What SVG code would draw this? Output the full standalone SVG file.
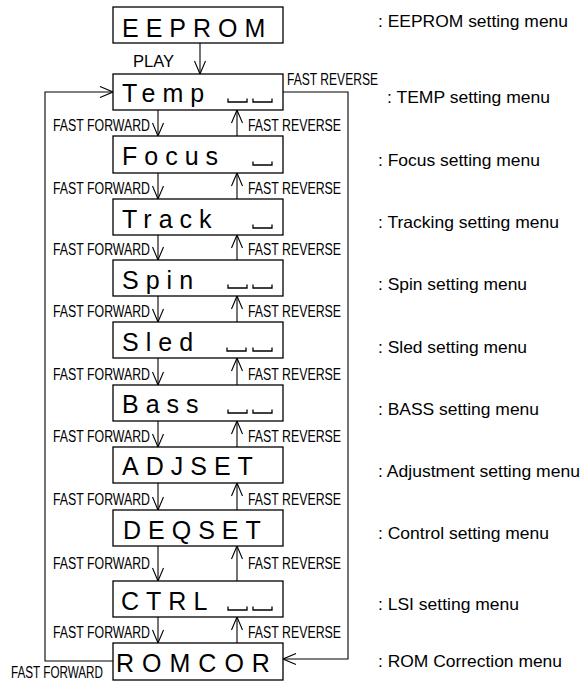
<svg xmlns="http://www.w3.org/2000/svg" xmlns:xlink="http://www.w3.org/1999/xlink" width="584" height="681" viewBox="0 0 584 681">
<style>
.box{fill:#fff;stroke:#000;stroke-width:1.3}
.bt{font-family:"Liberation Sans",Arial,sans-serif;font-size:25px;letter-spacing:7px;fill:#000}
.lab{font-family:"Liberation Sans",Arial,sans-serif;font-size:16px;fill:#000}
.desc{font-family:"Liberation Sans",Arial,sans-serif;font-size:16.5px;fill:#000}
.cn{fill:none;stroke:#000;stroke-width:1.1}
.bl{fill:none;stroke:#000;stroke-width:1.3}
</style>
<defs>
<marker id="ah" viewBox="-15 -8 16 16" refX="0" refY="0" markerWidth="16" markerHeight="16" orient="auto" markerUnits="userSpaceOnUse">
<path d="M-13,-5.5 L0,0 L-13,5.5" fill="none" stroke="#000" stroke-width="1.1"/>
</marker>
<path id="blank" class="bl" d="M0,-3.5 V0 H19 V-3.5"/>
</defs>

<g id="connectors">
<path class="cn" d="M200,43 V74" marker-end="url(#ah)"/>
<path class="cn" d="M113,661 H45 V92 H113" marker-end="url(#ah)"/>
<path class="cn" d="M283,92 H348 V659 H283" marker-end="url(#ah)"/>
<path class="cn" d="M158,110 V136" marker-end="url(#ah)"/>
<path class="cn" d="M237,136 V110" marker-end="url(#ah)"/>
<path class="cn" d="M158,173 V199" marker-end="url(#ah)"/>
<path class="cn" d="M237,199 V173" marker-end="url(#ah)"/>
<path class="cn" d="M158,235 V260" marker-end="url(#ah)"/>
<path class="cn" d="M237,260 V235" marker-end="url(#ah)"/>
<path class="cn" d="M158,296 V322" marker-end="url(#ah)"/>
<path class="cn" d="M237,322 V296" marker-end="url(#ah)"/>
<path class="cn" d="M158,358 V385" marker-end="url(#ah)"/>
<path class="cn" d="M237,385 V358" marker-end="url(#ah)"/>
<path class="cn" d="M158,421 V447" marker-end="url(#ah)"/>
<path class="cn" d="M237,447 V421" marker-end="url(#ah)"/>
<path class="cn" d="M158,483 V510" marker-end="url(#ah)"/>
<path class="cn" d="M237,510 V483" marker-end="url(#ah)"/>
<path class="cn" d="M158,546 V581" marker-end="url(#ah)"/>
<path class="cn" d="M237,581 V546" marker-end="url(#ah)"/>
<path class="cn" d="M158,617 V643" marker-end="url(#ah)"/>
<path class="cn" d="M237,643 V617" marker-end="url(#ah)"/>
<text class="lab" x="133" y="67" style="font-size:16.5px">PLAY</text>
<text class="lab" x="287" y="85" textLength="91" lengthAdjust="spacingAndGlyphs">FAST REVERSE</text>
<text class="lab" x="103" y="678" text-anchor="end" textLength="92" lengthAdjust="spacingAndGlyphs">FAST FORWARD</text>
<g id="ff-labels">
<text class="lab" x="53" y="131" textLength="97" lengthAdjust="spacingAndGlyphs">FAST FORWARD</text>
<text class="lab" x="53" y="194" textLength="97" lengthAdjust="spacingAndGlyphs">FAST FORWARD</text>
<text class="lab" x="53" y="255" textLength="97" lengthAdjust="spacingAndGlyphs">FAST FORWARD</text>
<text class="lab" x="53" y="317" textLength="97" lengthAdjust="spacingAndGlyphs">FAST FORWARD</text>
<text class="lab" x="53" y="380" textLength="97" lengthAdjust="spacingAndGlyphs">FAST FORWARD</text>
<text class="lab" x="53" y="442" textLength="97" lengthAdjust="spacingAndGlyphs">FAST FORWARD</text>
<text class="lab" x="53" y="505" textLength="97" lengthAdjust="spacingAndGlyphs">FAST FORWARD</text>
<text class="lab" x="53" y="569" textLength="97" lengthAdjust="spacingAndGlyphs">FAST FORWARD</text>
<text class="lab" x="53" y="638" textLength="97" lengthAdjust="spacingAndGlyphs">FAST FORWARD</text>
</g>
<g id="fr-labels">
<text class="lab" x="248" y="131" textLength="93" lengthAdjust="spacingAndGlyphs">FAST REVERSE</text>
<text class="lab" x="248" y="194" textLength="93" lengthAdjust="spacingAndGlyphs">FAST REVERSE</text>
<text class="lab" x="248" y="255" textLength="93" lengthAdjust="spacingAndGlyphs">FAST REVERSE</text>
<text class="lab" x="248" y="317" textLength="93" lengthAdjust="spacingAndGlyphs">FAST REVERSE</text>
<text class="lab" x="248" y="380" textLength="93" lengthAdjust="spacingAndGlyphs">FAST REVERSE</text>
<text class="lab" x="248" y="442" textLength="93" lengthAdjust="spacingAndGlyphs">FAST REVERSE</text>
<text class="lab" x="248" y="505" textLength="93" lengthAdjust="spacingAndGlyphs">FAST REVERSE</text>
<text class="lab" x="248" y="569" textLength="93" lengthAdjust="spacingAndGlyphs">FAST REVERSE</text>
<text class="lab" x="248" y="638" textLength="93" lengthAdjust="spacingAndGlyphs">FAST REVERSE</text>
</g>
</g>

<g id="eeprom">
<rect class="box" x="113" y="7" width="170" height="36"/>
<text class="bt" x="122" y="37">EEPROM</text>
<text class="desc" x="378" y="27" textLength="190" lengthAdjust="spacingAndGlyphs">: EEPROM setting menu</text>
</g>
<g id="temp">
<rect class="box" x="113" y="74" width="170" height="36"/>
<text class="bt" x="122" y="102">Temp</text>
<use xlink:href="#blank" x="228" y="102"/>
<use xlink:href="#blank" x="253" y="102"/>
<text class="desc" x="387" y="103" textLength="163" lengthAdjust="spacingAndGlyphs">: TEMP setting menu</text>
</g>
<g id="focus">
<rect class="box" x="113" y="136" width="170" height="37"/>
<text class="bt" x="122" y="165">Focus</text>
<use xlink:href="#blank" x="253" y="165"/>
<text class="desc" x="378" y="166" textLength="162" lengthAdjust="spacingAndGlyphs">: Focus setting menu</text>
</g>
<g id="track">
<rect class="box" x="113" y="199" width="170" height="36"/>
<text class="bt" x="122" y="228">Track</text>
<use xlink:href="#blank" x="253" y="228"/>
<text class="desc" x="378" y="228" textLength="181" lengthAdjust="spacingAndGlyphs">: Tracking setting menu</text>
</g>
<g id="spin">
<rect class="box" x="113" y="260" width="170" height="36"/>
<text class="bt" x="122" y="289">Spin</text>
<use xlink:href="#blank" x="228" y="288"/>
<use xlink:href="#blank" x="253" y="288"/>
<text class="desc" x="378" y="290" textLength="149" lengthAdjust="spacingAndGlyphs">: Spin setting menu</text>
</g>
<g id="sled">
<rect class="box" x="113" y="322" width="170" height="36"/>
<text class="bt" x="122" y="351">Sled</text>
<use xlink:href="#blank" x="227" y="351"/>
<use xlink:href="#blank" x="253" y="351"/>
<text class="desc" x="378" y="353" textLength="149" lengthAdjust="spacingAndGlyphs">: Sled setting menu</text>
</g>
<g id="bass">
<rect class="box" x="113" y="385" width="170" height="36"/>
<text class="bt" x="122" y="413">Bass</text>
<use xlink:href="#blank" x="228" y="413"/>
<use xlink:href="#blank" x="253" y="413"/>
<text class="desc" x="378" y="415" textLength="161" lengthAdjust="spacingAndGlyphs">: BASS setting menu</text>
</g>
<g id="adjset">
<rect class="box" x="113" y="447" width="170" height="36"/>
<text class="bt" x="122" y="475">ADJSET</text>
<text class="desc" x="378" y="477" textLength="202" lengthAdjust="spacingAndGlyphs">: Adjustment setting menu</text>
</g>
<g id="deqset">
<rect class="box" x="113" y="510" width="170" height="36"/>
<text class="bt" x="123" y="539">DEQSET</text>
<text class="desc" x="378" y="539" textLength="171" lengthAdjust="spacingAndGlyphs">: Control setting menu</text>
</g>
<g id="ctrl">
<rect class="box" x="113" y="581" width="170" height="36"/>
<text class="bt" x="121" y="610">CTRL</text>
<use xlink:href="#blank" x="228" y="610"/>
<use xlink:href="#blank" x="253" y="610"/>
<text class="desc" x="378" y="610" textLength="141" lengthAdjust="spacingAndGlyphs">: LSI setting menu</text>
</g>
<g id="romcor">
<rect class="box" x="113" y="643" width="170" height="37"/>
<text class="bt" x="116" y="672" style="letter-spacing:8px">ROMCOR</text>
<text class="desc" x="378" y="667" textLength="184" lengthAdjust="spacingAndGlyphs">: ROM Correction menu</text>
</g>
</svg>
